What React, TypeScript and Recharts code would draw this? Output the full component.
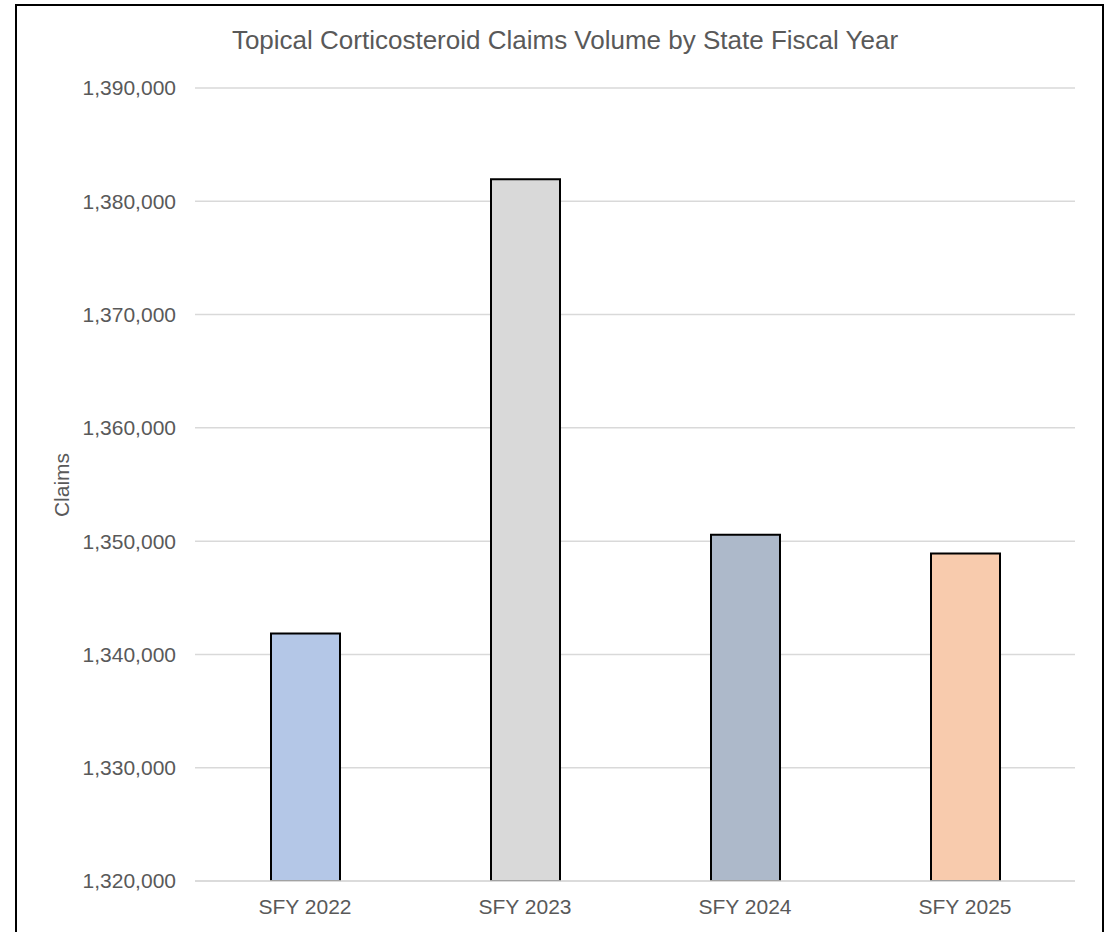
import { BarChart, Bar, Cell, XAxis, YAxis, CartesianGrid } from "recharts";

const FONT = '"Liberation Sans", Arial, sans-serif';
const TEXT_COLOR = "#595959";
const GRID_COLOR = "#D9D9D9";

const categories = ["SFY 2022", "SFY 2023", "SFY 2024", "SFY 2025"];
const claims = [1341850, 1381950, 1350560, 1348900];
const barColors = ["#B4C7E7", "#D9D9D9", "#ADB9CA", "#F8CBAD"];
const yTicks = [1320000, 1330000, 1340000, 1350000, 1360000, 1370000, 1380000, 1390000];

const data = categories.map((name, i) => ({ name, claims: claims[i] }));

const W = 1085;
const H = 926;

export default function App() {
  return (
    <div
      style={{
        position: "absolute",
        left: 15,
        top: 4,
        width: W,
        height: H,
        borderTop: "2px solid #000",
        borderLeft: "2px solid #000",
        borderRight: "2px solid #000",
        background: "#fff",
        fontFamily: FONT,
      }}
    >
      <BarChart
        width={W}
        height={H}
        data={data}
        margin={{ top: 82, right: 27, left: 78, bottom: 0 }}
        barSize={69}
      >
        <CartesianGrid vertical={false} stroke={GRID_COLOR} strokeWidth={1.5} />
        <YAxis
          width={100}
          domain={[1320000, 1390000]}
          ticks={yTicks}
          allowDataOverflow
          axisLine={false}
          tickLine={false}
          tickSize={0}
          tickMargin={19}
          tick={{ fill: TEXT_COLOR, fontSize: 21, fontFamily: FONT }}
          tickFormatter={(v: number) => v.toLocaleString("en-US")}
        />
        <Bar dataKey="claims" stroke="#000" strokeWidth={2} isAnimationActive={false}>
          {data.map((d, i) => (
            <Cell key={d.name} fill={barColors[i]} />
          ))}
        </Bar>
        <XAxis
          dataKey="name"
          height={51}
          axisLine={{ stroke: GRID_COLOR, strokeWidth: 1.5 }}
          tickLine={false}
          tickSize={0}
          tickMargin={18}
          tick={{ fill: TEXT_COLOR, fontSize: 21, fontFamily: FONT }}
        />
      </BarChart>
      <svg
        width={W}
        height={H}
        style={{ position: "absolute", left: 0, top: 0, pointerEvents: "none" }}
      >
        <text
          x={548}
          y={43}
          textAnchor="middle"
          fill={TEXT_COLOR}
          fontSize={26}
          fontFamily={FONT}
        >
          Topical Corticosteroid Claims Volume by State Fiscal Year
        </text>
        <text
          x={0}
          y={0}
          transform="translate(52, 479) rotate(-90)"
          textAnchor="middle"
          fill={TEXT_COLOR}
          fontSize={21}
          fontFamily={FONT}
        >
          Claims
        </text>
      </svg>
    </div>
  );
}
